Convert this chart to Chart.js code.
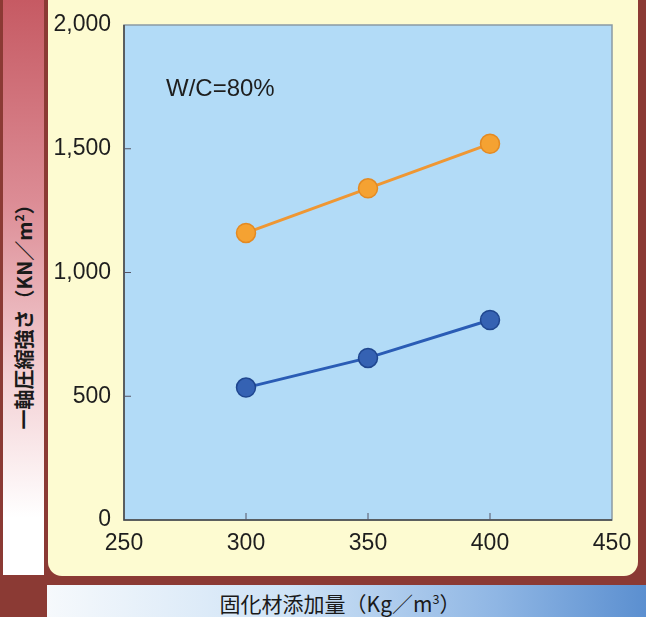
<!DOCTYPE html>
<html>
<head>
    <meta charset="utf-8" />
    <title>一軸圧縮強さ</title>
    <script src="https://cdn.jsdelivr.net/npm/chart.js"></script>
    <style>
        body { margin: 0; padding: 0; width: 646px; height: 617px; overflow: hidden;
               background: #8b3a34; position: relative; font-family: "Liberation Sans", Arial, sans-serif; }
        #leftbar {
            position: absolute; left: 3px; top: 0; width: 41px; height: 575px;
            background: linear-gradient(to bottom, #c65a63 0%, #dc8c95 35%, #f3cfd3 65%, #ffffff 90%);
        }
        #panel {
            position: absolute; left: 48px; top: -14px; width: 590px; height: 590px;
            background: #fdfbd1; border-radius: 14px;
        }
        #bottombar {
            position: absolute; left: 47px; top: 585px; width: 599px; height: 32px;
            background: linear-gradient(to right, #f6f9fc 0%, #cfe3f6 40%, #8fb6e4 75%, #5b8fd0 100%);
        }
        #ytitle {
            position: absolute; left: 23px; top: 312px; white-space: nowrap;
            transform: translate(-50%, -50%) rotate(-90deg);
            font-family: "Noto Sans CJK JP", sans-serif; font-size: 20px; font-weight: bold; color: #1a1a1a;
        }
        #xtitle {
            position: absolute; left: 340px; top: 603px; white-space: nowrap;
            transform: translate(-50%, -50%);
            font-family: "Noto Sans CJK JP", sans-serif; font-size: 21px; color: #1a1a1a;
        }
        #chart-container { position: absolute; left: 0; top: 0; width: 646px; height: 617px; }
        sup { font-size: 0.6em; }
    </style>
</head>
<body>
    <div id="leftbar"></div>
    <div id="panel"></div>
    <div id="bottombar"></div>
    <div id="ytitle">一軸圧縮強さ（KN／m<sup>2</sup>）</div>
    <div id="xtitle">固化材添加量（Kg／m<sup>3</sup>）</div>
    <div id="chart-container"><canvas id="chart" width="646" height="617"></canvas></div>
    <script>
        // data
        var xValues = [300, 350, 400];
        var orangeValues = [1160, 1340, 1520];
        var blueValues = [535, 655, 808];
        var xTicks = [250, 300, 350, 400, 450];
        var yTicks = [0, 500, 1000, 1500, 2000];
        var note = 'W/C=80%';

        function points(vals) {
            return xValues.map(function (x, i) { return { x: x, y: vals[i] }; });
        }

        // plot background, border, inner ticks and note
        var decor = {
            id: 'decor',
            beforeDatasetsDraw: function (chart) {
                var a = chart.chartArea, ctx = chart.ctx;
                ctx.save();
                ctx.fillStyle = '#b2dbf7';
                ctx.fillRect(a.left, a.top, a.right - a.left, a.bottom - a.top);
                ctx.strokeStyle = '#8a9aa4';
                ctx.lineWidth = 1.5;
                ctx.strokeRect(a.left, a.top, a.right - a.left, a.bottom - a.top);
                ctx.strokeStyle = '#444';
                ctx.beginPath();
                ctx.moveTo(a.left, a.top); ctx.lineTo(a.left, a.bottom); ctx.lineTo(a.right, a.bottom);
                ctx.stroke();
                // short ticks inside the plot
                ctx.strokeStyle = '#556';
                ctx.lineWidth = 1;
                var xs = chart.scales.x, ys = chart.scales.y;
                xTicks.slice(1, -1).forEach(function (t) {
                    var px = xs.getPixelForValue(t);
                    ctx.beginPath(); ctx.moveTo(px, a.bottom); ctx.lineTo(px, a.bottom - 7); ctx.stroke();
                });
                yTicks.slice(1, -1).forEach(function (t) {
                    var py = ys.getPixelForValue(t);
                    ctx.beginPath(); ctx.moveTo(a.left, py); ctx.lineTo(a.left + 7, py); ctx.stroke();
                });
                ctx.fillStyle = '#1e1e1e';
                ctx.font = '24px "Liberation Sans", Arial, sans-serif';
                ctx.textBaseline = 'middle';
                ctx.fillText(note, a.left + 42, a.top + 64);
                ctx.restore();
            }
        };

        new Chart(document.getElementById('chart'), {
            type: 'line',
            data: {
                datasets: [{
                    data: points(orangeValues),
                    borderColor: '#ef9733',
                    borderWidth: 3,
                    pointRadius: 9.5,
                    pointBackgroundColor: '#f5a232',
                    pointBorderColor: '#e48a22',
                    pointBorderWidth: 1.5
                }, {
                    data: points(blueValues),
                    borderColor: '#2a5cb5',
                    borderWidth: 3,
                    pointRadius: 9.5,
                    pointBackgroundColor: '#3562b3',
                    pointBorderColor: '#1f468f',
                    pointBorderWidth: 1.5
                }]
            },
            options: {
                responsive: false,
                animation: false,
                layout: { padding: { top: 25, right: 34, left: 0, bottom: 0 } },
                plugins: { legend: { display: false }, tooltip: { enabled: false } },
                scales: {
                    x: {
                        type: 'linear',
                        min: 250, max: 450,
                        afterBuildTicks: function (s) { s.ticks = xTicks.map(function (v) { return { value: v }; }); },
                        afterFit: function (s) { s.height = 97; },
                        grid: { display: false },
                        border: { display: false },
                        ticks: {
                            color: '#1e1e1e', padding: 2,
                            font: { family: '"Liberation Sans", Arial, sans-serif', size: 23 },
                            maxRotation: 0
                        }
                    },
                    y: {
                        min: 0, max: 2000,
                        afterBuildTicks: function (s) { s.ticks = yTicks.map(function (v) { return { value: v }; }); },
                        afterFit: function (s) { s.width = 124; },
                        grid: { display: false },
                        border: { display: false },
                        ticks: {
                            color: '#1e1e1e', padding: 5,
                            font: { family: '"Liberation Sans", Arial, sans-serif', size: 23 },
                            callback: function (v) { return v.toLocaleString('en-US'); }
                        }
                    }
                }
            },
            plugins: [decor]
        });
    </script>
</body>
</html>
